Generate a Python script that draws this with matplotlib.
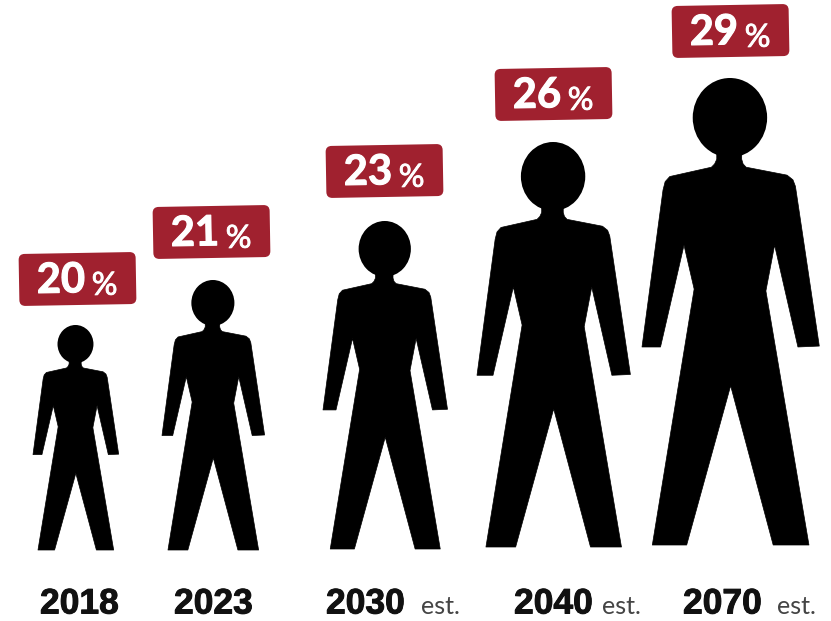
import matplotlib
matplotlib.use('Agg')
import matplotlib.pyplot as plt
import matplotlib.patheffects as pe
from matplotlib.patches import Ellipse, FancyBboxPatch, Polygon
from matplotlib.transforms import Affine2D

# values
years = ['2018', '2023', '2030', '2040', '2070']
percents = [20, 21, 23, 26, 29]
estimated = [False, False, True, True, True]

# layout in image pixels
person_left = [33, 162, 323, 477, 642]
person_right = [119, 265, 448, 631, 820]
person_top = [325, 280, 221, 142, 78]
person_bottom = [550, 550, 549, 547, 545]
badge_left = [19, 153, 326, 495, 672]
badge_top = [253, 206, 145, 68, 5]
year_left = [40, 174, 326, 514, 683]
est_left = [None, None, 421, 602, 777]

RED = '#A0212F'

# body outline, x 0..1 across the arms, y 0..1 from top of head to feet
body = [(0.420, 0.150), (0.420, 0.174), (0.408, 0.184), (0.390, 0.191), (0.156, 0.211),
        (0.130, 0.222), (0.118, 0.240), (0.0, 0.576), (0.104, 0.576), (0.236, 0.358),
        (0.293, 0.452), (0.058, 1.0), (0.251, 1.0), (0.498, 0.659), (0.737, 1.0),
        (0.938, 1.0), (0.696, 0.456), (0.745, 0.358), (0.876, 0.576), (0.996, 0.574),
        (0.862, 0.232), (0.848, 0.218), (0.815, 0.208), (0.585, 0.191), (0.568, 0.184),
        (0.560, 0.174), (0.560, 0.150)]
head_cx, head_cy, head_w, head_h = 0.494, 0.085, 0.418, 0.170

fig = plt.figure(figsize=(8.31, 6.21), dpi=100)
ax = fig.add_axes([0, 0, 1, 1])
ax.set_xlim(0, 831)
ax.set_ylim(621, 0)
ax.axis('off')

for i in range(len(years)):
    # person
    w = person_right[i] - person_left[i]
    h = person_bottom[i] - person_top[i]
    pts = [(person_left[i] + x * w, person_top[i] + y * h) for x, y in body]
    ax.add_patch(Polygon(pts, closed=True, fc='black', ec='black', lw=0.5, joinstyle='round'))
    ax.add_patch(Ellipse((person_left[i] + head_cx * w, person_top[i] + head_cy * h),
                         head_w * w, head_h * h, fc='black', ec='none'))

    # red badge, very slightly tilted
    bx, by = badge_left[i], badge_top[i]
    cx, cy = bx + 58.5, by + 26
    box = FancyBboxPatch((bx + 6, by + 6), 105, 40, boxstyle='round,pad=6,rounding_size=6',
                         fc=RED, ec='none')
    box.set_transform(Affine2D().rotate_deg_around(cx, cy, -1) + ax.transData)
    ax.add_patch(box)
    ax.text(bx + 18, by + 40, str(percents[i]), color='white', fontsize=30, fontweight='bold',
            family='Lato', ha='left', va='baseline', rotation=1, rotation_mode='anchor',
            path_effects=[pe.withStroke(linewidth=0.8, foreground='white')])
    ax.text(bx + 73, by + 42, '%', color='white', fontsize=23, family='Lato',
            ha='left', va='baseline', rotation=1, rotation_mode='anchor',
            path_effects=[pe.withStroke(linewidth=0.6, foreground='white')])

    # year labels
    ax.text(year_left[i], 613.5, years[i], color='#111111', fontsize=25.5, fontweight='bold',
            family='Liberation Sans', ha='left', va='baseline',
            path_effects=[pe.withStroke(linewidth=0.7, foreground='#111111')])
    if estimated[i]:
        ax.text(est_left[i], 614, 'est.', color='#444444', fontsize=18,
                family='Lato', ha='left', va='baseline')

fig.savefig('out.png', dpi=100)
